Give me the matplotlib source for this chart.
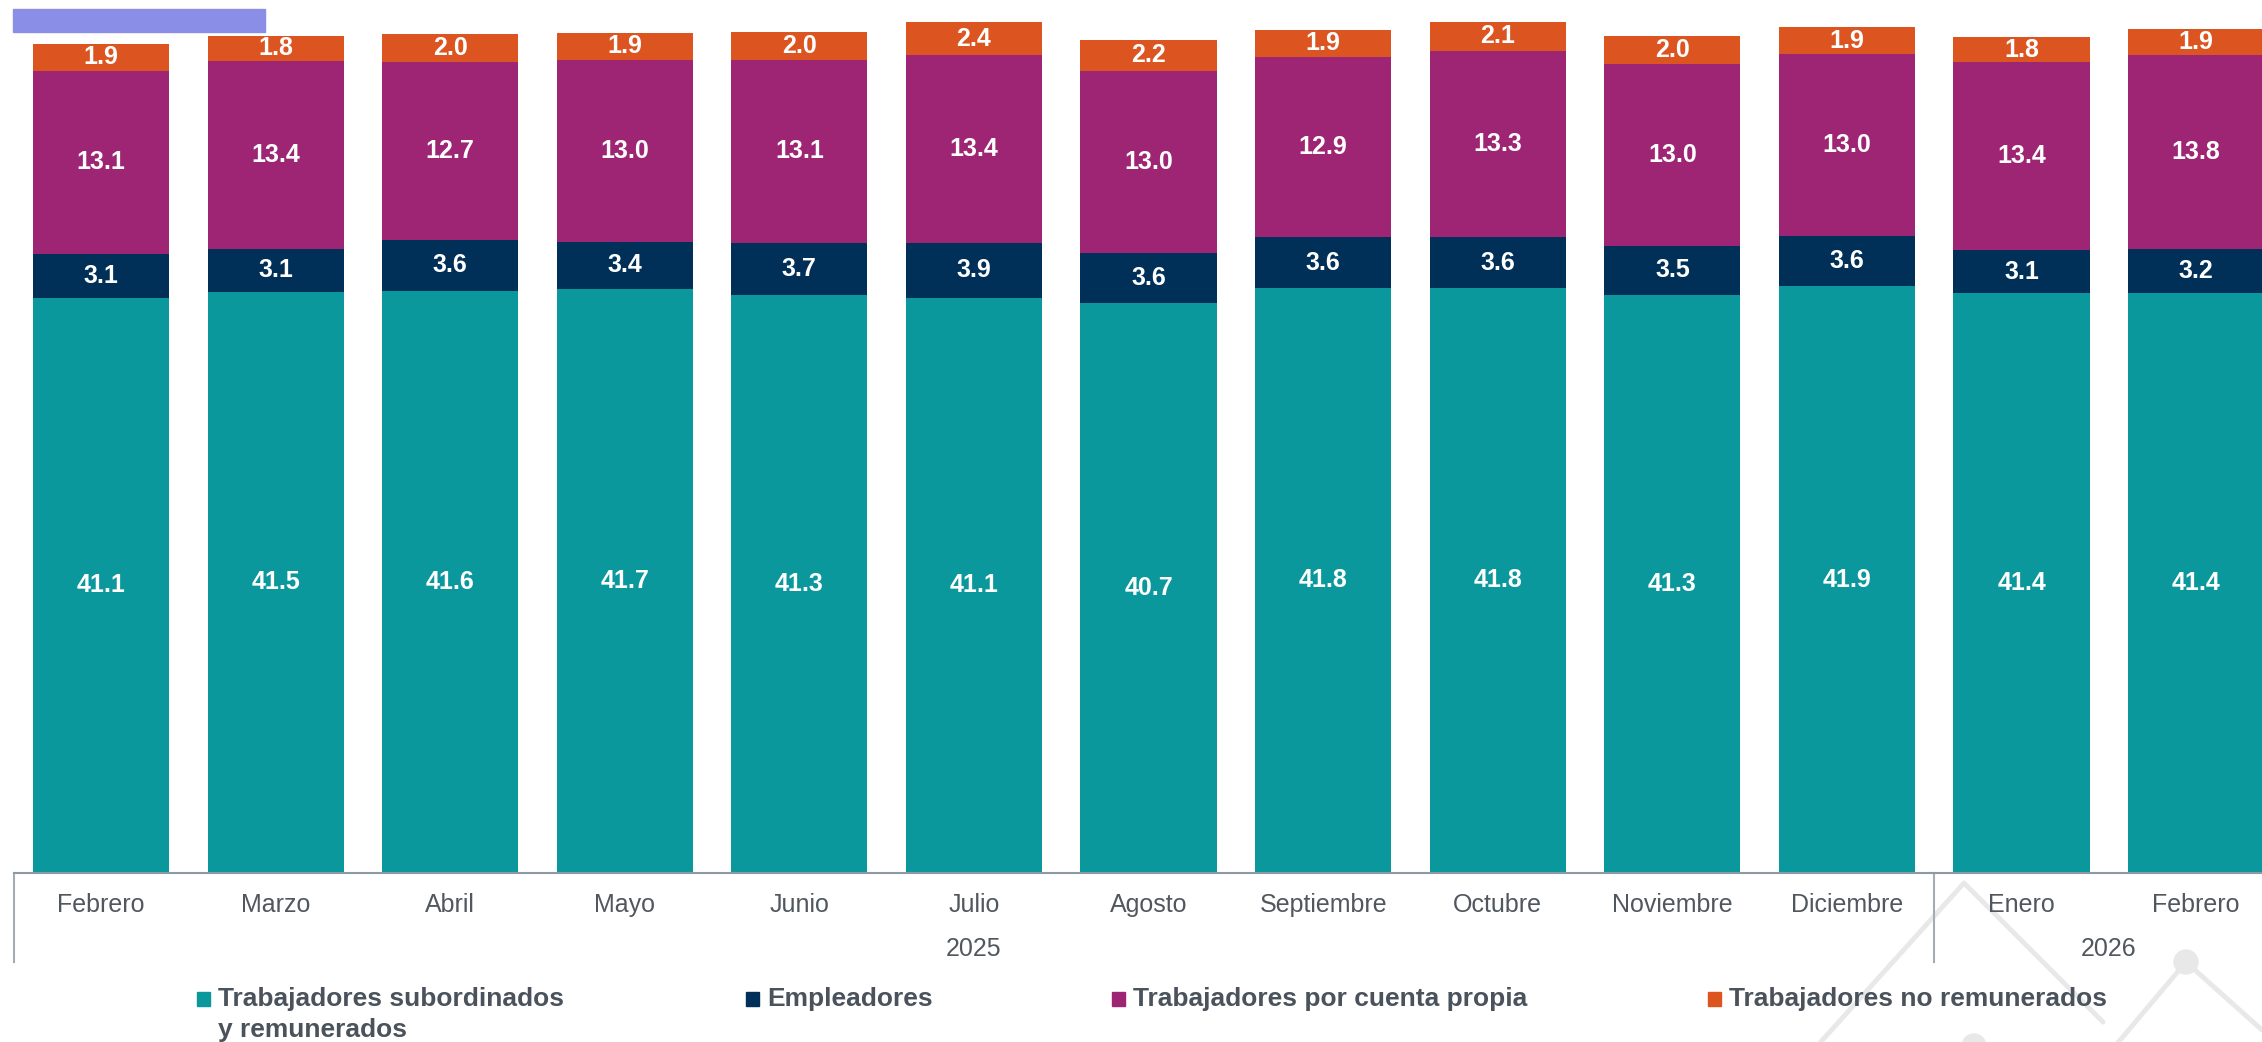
import matplotlib
matplotlib.use("Agg")
import matplotlib.pyplot as plt
from matplotlib.patches import Rectangle, Circle
import numpy as np

plt.rcParams['font.family'] = ['Liberation Sans', 'DejaVu Sans']

# datos (millones de personas)
meses = ['Febrero', 'Marzo', 'Abril', 'Mayo', 'Junio', 'Julio', 'Agosto',
         'Septiembre', 'Octubre', 'Noviembre', 'Diciembre', 'Enero', 'Febrero']
subordinados = [41.1, 41.5, 41.6, 41.7, 41.3, 41.1, 40.7, 41.8, 41.8, 41.3, 41.9, 41.4, 41.4]
empleadores = [3.1, 3.1, 3.6, 3.4, 3.7, 3.9, 3.6, 3.6, 3.6, 3.5, 3.6, 3.1, 3.2]
cuenta_propia = [13.1, 13.4, 12.7, 13.0, 13.1, 13.4, 13.0, 12.9, 13.3, 13.0, 13.0, 13.4, 13.8]
no_remunerados = [1.9, 1.8, 2.0, 1.9, 2.0, 2.4, 2.2, 1.9, 2.1, 2.0, 1.9, 1.8, 1.9]
anios = ['2025', '2026']
n_por_anio = [11, 2]

series = [subordinados, empleadores, cuenta_propia, no_remunerados]
nombres = ['Trabajadores subordinados\ny remunerados', 'Empleadores',
           'Trabajadores por cuenta propia', 'Trabajadores no remunerados']
colores = ['#0a989c', '#002f57', '#9e2574', '#dc5520']

W, H = 2262, 1042
fig = plt.figure(figsize=(W / 100, H / 100), dpi=100)

# fondo decorativo (lineas grises abajo a la derecha)
bg = fig.add_axes([0, 0, 1, 1], zorder=0)
bg.set_xlim(0, W)
bg.set_ylim(H, 0)
bg.axis('off')
gris = '#e8e8e8'
bg.plot([1818, 1964, 2103], [1045, 883, 1022], color=gris, lw=3.5, solid_capstyle='round')
bg.plot([2116, 2186, 2262], [1045, 962, 1030], color=gris, lw=3.5, solid_capstyle='round')
bg.add_patch(Circle((2186, 962), 12, color=gris))
bg.add_patch(Circle((1974, 1046), 12, color=gris))
bg.add_patch(Rectangle((13, 9), 252, 23, color='#8b8ee6'))

# ejes principales
base_px = 873
ax = fig.add_axes([13.7 / W, (H - base_px) / H, 1 - 13.7 / W, base_px / H], zorder=1)
ax.patch.set_alpha(0)
x = np.arange(len(meses))
ancho = 0.78
fondo = np.zeros(len(meses))
for vals, col in zip(series, colores):
    ax.bar(x, vals, ancho, bottom=fondo, color=col, linewidth=0)
    for xi, b, v in zip(x, fondo, vals):
        ax.text(xi, b + v / 2, f'{v:.1f}', ha='center', va='center',
                color='white', fontsize=18, fontweight='bold')
    fondo += np.array(vals)

ax.set_xlim(-0.5, 12.377)
ax.set_ylim(0, 62.35)
ax.set_yticks([])
ax.set_xticks([])
for s in ['top', 'right', 'left']:
    ax.spines[s].set_visible(False)
ax.spines['bottom'].set_color('#8c99a6')
ax.spines['bottom'].set_linewidth(1.5)

texto_gris = '#50575f'
trans = ax.get_xaxis_transform()
for xi, m in zip(x, meses):
    ax.text(xi, -32 / base_px, m, transform=trans, ha='center', va='center',
            fontsize=18, color=texto_gris)

inicio = 0
sep_y = -89 / base_px
ax.plot([-0.5, -0.5], [0, sep_y], transform=trans, color='#a3acb5', lw=1.5, clip_on=False)
for anio, n in zip(anios, n_por_anio):
    centro = inicio + (n - 1) / 2
    ax.text(centro, -76 / base_px, anio, transform=trans, ha='center', va='center',
            fontsize=18, color=texto_gris)
    fin = inicio + n - 0.5
    if fin < 12:
        ax.plot([fin, fin], [0, sep_y], transform=trans, color='#a3acb5', lw=1.5, clip_on=False)
    inicio += n

# leyenda
leg_x = [197, 746, 1112, 1708]
for lx, nom, col in zip(leg_x, nombres, colores):
    bg.add_patch(Rectangle((lx, 992), 13, 14, color=col))
    bg.text(lx + 21, 987, nom, ha='left', va='top', fontsize=19,
            fontweight='bold', color='#4a525c', linespacing=1.35)

fig.savefig('out.png', dpi=100)
